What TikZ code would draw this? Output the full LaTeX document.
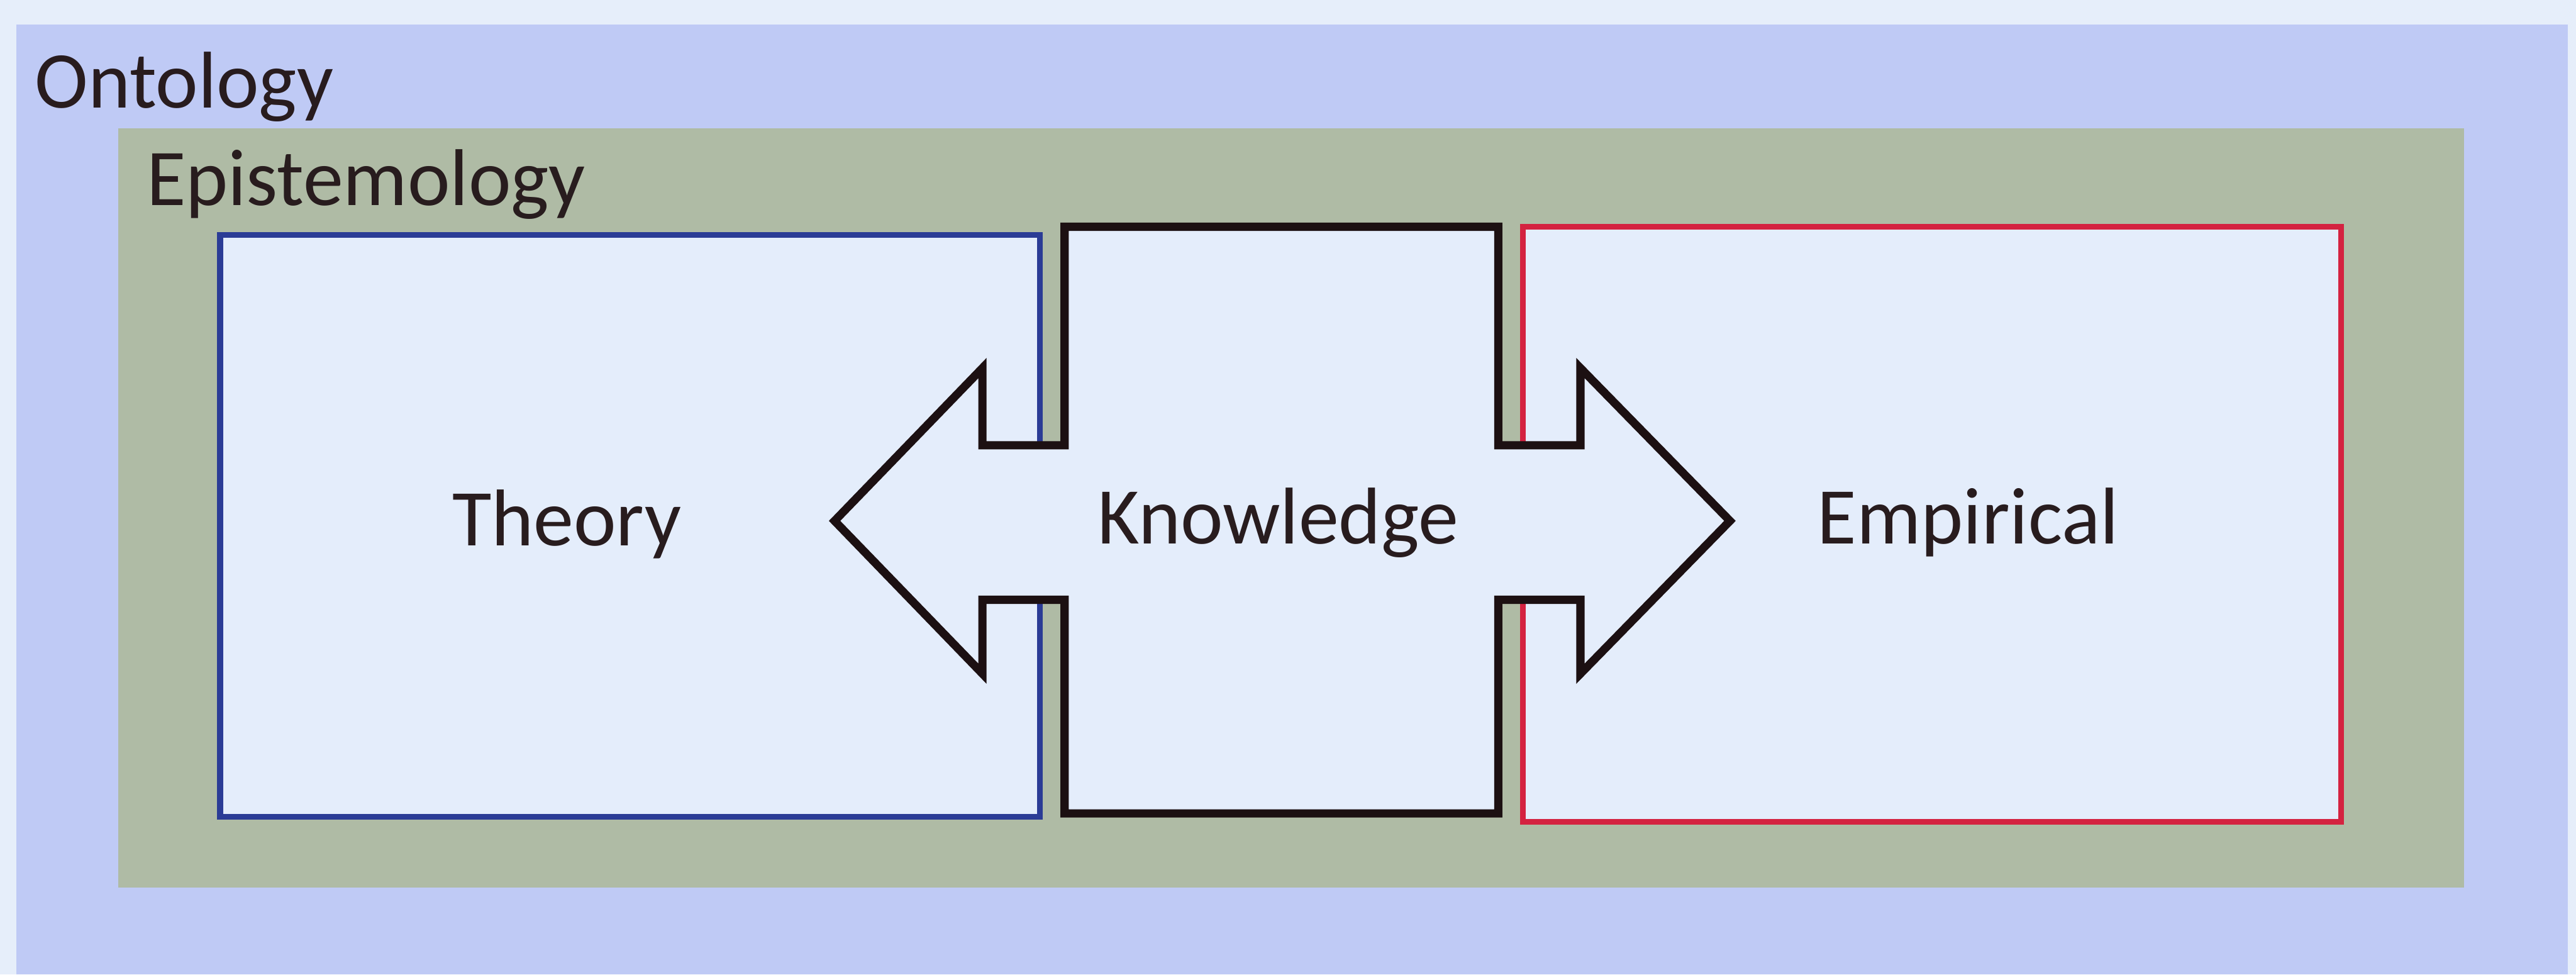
\documentclass[tikz,border=0pt]{standalone}
\usepackage{fontspec}
\setmainfont{Carlito}
\definecolor{pagebg}{RGB}{230,238,250}
\definecolor{onto}{RGB}{191,202,245}
\definecolor{epis}{RGB}{175,187,165}
\definecolor{boxfill}{RGB}{228,237,251}
\definecolor{theoryblue}{RGB}{43,60,150}
\definecolor{empred}{RGB}{212,34,64}
\definecolor{kblack}{RGB}{28,16,18}
\definecolor{txt}{RGB}{40,28,30}
\begin{document}
\begin{tikzpicture}[x=1pt,y=-1pt,
  lbl/.style={font=\fontsize{49}{58}\selectfont, text=txt, inner sep=0pt},
  pane/.style={draw, line width=3.5pt, fill=boxfill, inner sep=0pt, rectangle}]
\fill[pagebg] (0,0) rectangle (1568,593);
\useasboundingbox (0,0) rectangle (1568,593);
\fill[onto] (10,15) rectangle (1563,593);
\fill[epis] (72,78) rectangle (1500,540);
\node[lbl, anchor=base west] (ontolabel) at (21,65.5) {Ontology};
\node[lbl, anchor=base west] (epislabel) at (89,125) {Epistemology};
\node[pane, draw=theoryblue, minimum width=499pt, minimum height=354pt] (theorybox) at (383.5,320) {};
\node[pane, draw=empred, minimum width=498pt, minimum height=362pt] (empbox) at (1176,319) {};
\draw[line width=5pt, draw=kblack, fill=boxfill, line join=miter]
 (648,138) -- (912,138) -- (912,271) -- (962,271) -- (962,224) -- (1053,317)
 -- (962,410) -- (962,365) -- (912,365) -- (912,495) -- (648,495) -- (648,365)
 -- (598,365) -- (598,410) -- (508,317) -- (598,224) -- (598,271) -- (648,271) -- cycle;
\node[lbl, anchor=base] (theorylabel) at (345,332) {Theory};
\node[lbl, anchor=base] (knowlabel) at (778,331) {Knowledge};
\node[lbl, anchor=base] (emplabel) at (1198,331) {Empirical};
\end{tikzpicture}
\end{document}
